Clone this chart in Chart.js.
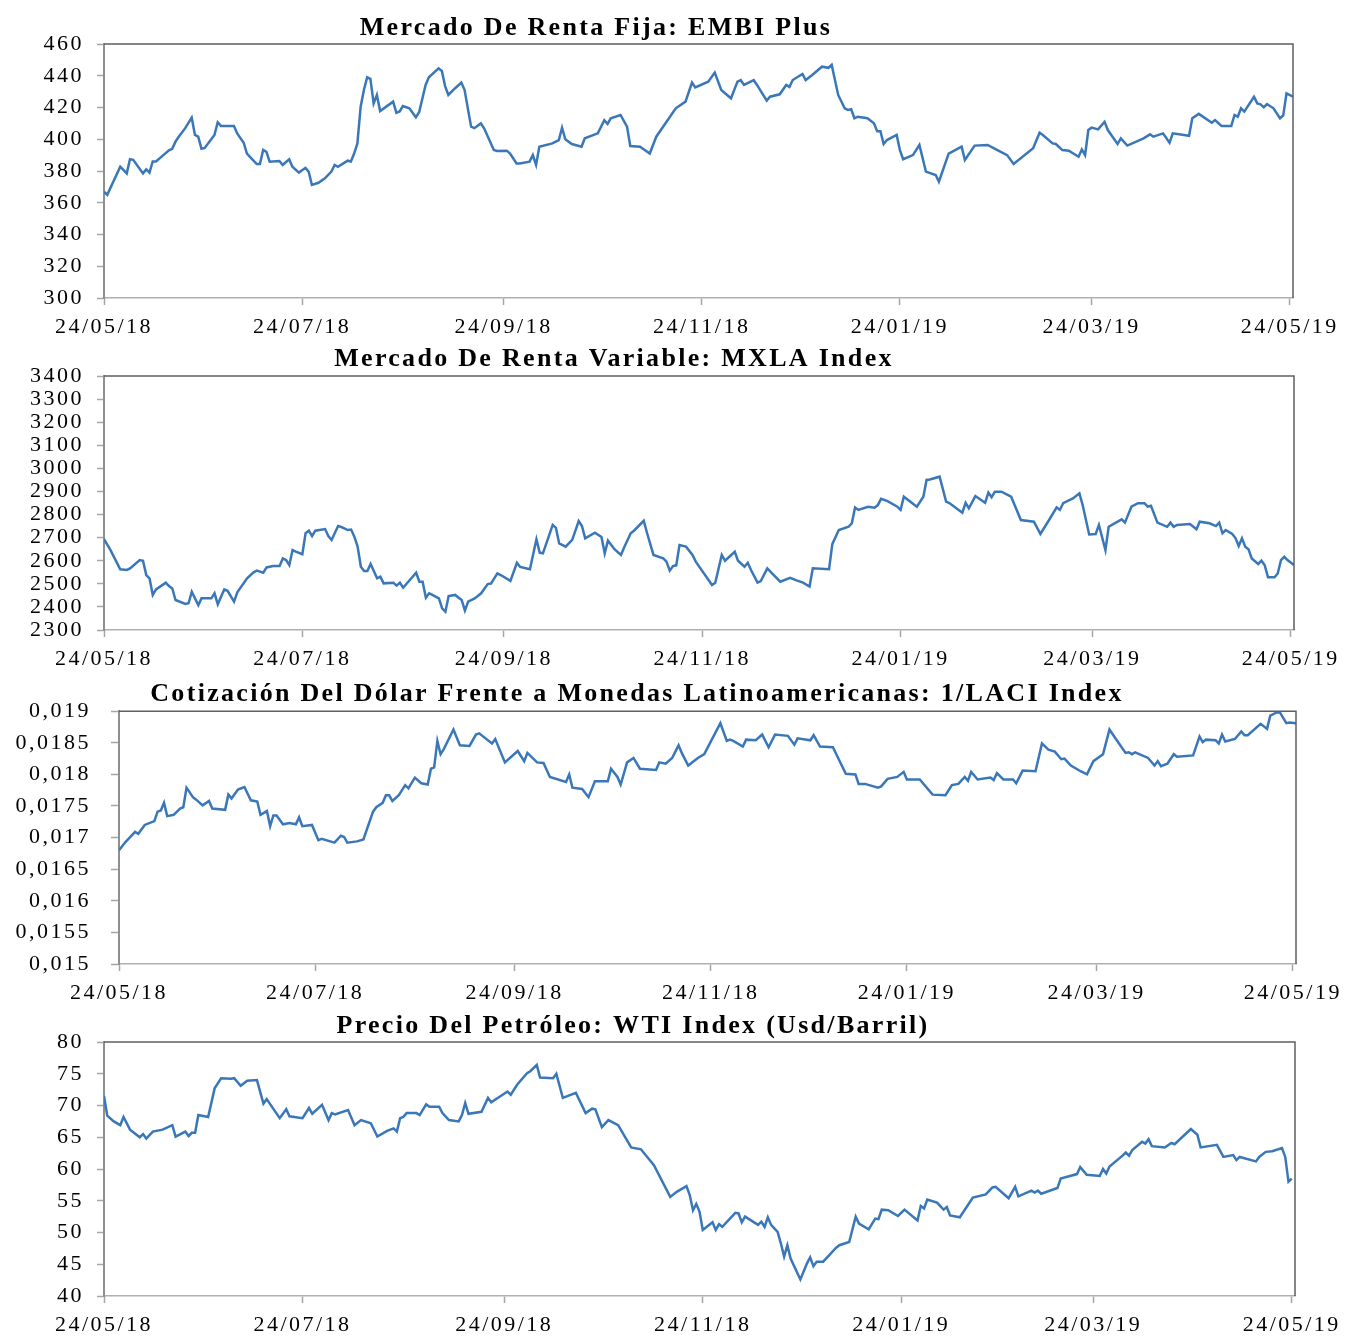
<!DOCTYPE html>
<html>
<head>
<meta charset="utf-8">
<script src="https://cdn.jsdelivr.net/npm/chart.js@4.4.1/dist/chart.umd.min.js"></script>
<style>
    html, body { margin: 0; padding: 0; background: #fff; }
    body { width: 1345px; height: 1336px; position: relative; overflow: hidden; }
    .panel { position: absolute; left: 0; width: 1345px; }
</style>
</head>
<body>
<div class="panel" style="top:0;height:342px"><canvas id="chart-embi"></canvas></div>
<div class="panel" style="top:342px;height:336px"><canvas id="chart-mxla"></canvas></div>
<div class="panel" style="top:678px;height:332px"><canvas id="chart-laci"></canvas></div>
<div class="panel" style="top:1010px;height:326px"><canvas id="chart-wti"></canvas></div>
<script>
// --- Data (x = days since 24/05/18) ---

const dateTickDays   = [0, 61, 123, 184, 245, 304, 365];
const dateTickLabels = ["24/05/18", "24/07/18", "24/09/18", "24/11/18", "24/01/19", "24/03/19", "24/05/19"];

const embiTicks  = [300, 320, 340, 360, 380, 400, 420, 440, 460];
const mxlaTicks  = [2300, 2400, 2500, 2600, 2700, 2800, 2900, 3000, 3100, 3200, 3300, 3400];
const laciTicks  = [0.015, 0.0155, 0.016, 0.0165, 0.017, 0.0175, 0.018, 0.0185, 0.019];
const laciTickLabels = ["0,015", "0,0155", "0,016", "0,0165", "0,017", "0,0175", "0,018", "0,0185", "0,019"];
const wtiTicks   = [40, 45, 50, 55, 60, 65, 70, 75, 80];

const embiDays = [0,1,5,7,8,9,12,13,14,15,16,18,20,21,22,23,25,27,28,29,30,31,34,35,36,40,41,43,44,47,48,49,50,51,54,55,57,58,60,62,63,64,66,68,70,71,72,75,76,77,78,79,80,81,82,83,84,85,89,90,91,92,94,96,97,99,100,103,104,105,106,108,110,111,113,114,116,117,120,121,124,125,127,128,131,132,133,134,138,140,141,142,144,147,148,152,154,155,156,159,161,162,165,168,170,176,179,181,182,186,188,190,193,195,196,197,200,201,204,205,208,210,211,212,215,216,218,221,223,224,226,228,229,230,231,232,235,237,238,239,240,241,244,245,246,249,251,253,256,257,260,264,265,268,272,274,278,280,286,288,289,292,293,295,297,300,301,302,303,304,306,308,309,312,313,315,320,322,323,326,328,329,334,335,337,341,342,344,347,348,349,350,351,354,355,356,357,358,360,361,362,363,364,366];
const embiValues = [367,365,382.7,378.5,387.4,387,378.5,381,379,386,386,389.5,393,394,398.5,401.6,407,413.6,402.7,401.6,394,394.5,402.7,410.7,408.4,408.4,403.7,397.8,391,384.4,384.4,393.2,392,385.9,386.3,383.8,387.4,382.7,379,382,379.6,371.2,372.6,375.4,379.6,383.8,382.6,386.5,386,391,397.4,420.5,431,439,438,422.6,427.9,417.8,423.7,416.7,417.5,420.9,419.5,413.8,417,434.2,439,444.7,443,433.5,427.9,432,435.7,431,407.9,407,410,406.9,393.2,392.6,392.8,391,384.8,384.8,385.9,390,383.8,395.3,397.4,399.5,407.3,400,397,395.3,400.6,403.7,412,409.7,413.2,415.3,408,395.7,395.3,391,401.6,419.5,423.7,435.7,432.7,436.3,442,431,425.8,436.3,437.3,434.2,437.3,434.2,424.3,426.8,428.3,434.2,433,437.3,441.1,437.3,440.5,445.7,445,446.8,427.9,419.5,418.5,418.9,413.2,414.2,413.2,410,405,405,397,399.5,402.7,393.2,387.4,390,396.4,379.6,377.5,373.3,391,395.3,386.9,396,396.4,394.3,390,384.4,394.3,404.1,402.7,397.4,397,393.2,392.8,389,393.6,390,405.8,407.3,406.2,411,405.8,397,400.6,396,400.6,403.1,401.6,403.7,397.8,403.7,402.2,413.2,416,410.4,412.1,408.4,408.4,415.3,414.2,419.5,417.4,426.8,422.6,422,420.1,422.2,419.5,416.3,413.2,415,428.9,426.8];

const mxlaDays = [0,2,5,7,8,11,12,13,14,15,16,19,20,21,22,25,26,27,29,30,33,34,35,37,38,40,41,44,46,47,49,50,52,54,55,56,57,58,59,61,62,63,64,65,68,69,70,72,73,75,76,77,78,79,80,81,82,84,85,86,89,90,91,92,96,97,98,99,100,101,103,104,105,106,108,110,111,112,114,116,118,119,121,122,125,127,128,131,133,134,135,138,139,140,142,144,146,147,148,151,153,154,155,157,159,160,162,163,166,167,169,172,173,174,175,176,177,179,181,182,187,188,190,191,194,195,197,198,199,201,202,204,206,208,211,213,215,217,218,223,224,226,229,230,231,232,235,237,238,239,241,244,245,246,250,252,253,254,257,259,260,264,265,266,268,271,272,273,274,276,279,282,286,288,291,293,294,295,298,300,301,303,305,306,308,309,313,314,316,318,320,321,322,324,327,328,329,330,334,336,337,340,342,343,344,345,347,348,349,350,351,352,353,355,356,357,358,360,361,362,363,364,366];
const mxlaValues = [2694,2646,2563,2560,2567,2603,2600,2538,2524,2452,2476,2505,2490,2480,2430,2413,2416,2466,2408,2437,2437,2459,2411,2476,2470,2423,2463,2524,2550,2557,2548,2571,2577,2577,2610,2603,2581,2646,2639,2628,2719,2730,2707,2730,2737,2707,2690,2750,2746,2733,2735,2704,2661,2574,2555,2555,2586,2524,2531,2502,2505,2492,2505,2483,2548,2509,2509,2440,2459,2452,2437,2394,2379,2447,2452,2430,2384,2423,2437,2459,2499,2501,2545,2538,2513,2591,2573,2563,2693,2635,2632,2755,2742,2675,2661,2690,2772,2750,2697,2721,2703,2632,2687,2650,2625,2658,2719,2730,2773,2721,2625,2610,2596,2557,2577,2580,2668,2661,2625,2596,2495,2505,2625,2600,2639,2600,2574,2591,2560,2505,2512,2567,2538,2509,2526,2515,2505,2488,2567,2563,2672,2733,2747,2762,2831,2820,2834,2830,2841,2868,2858,2834,2820,2877,2834,2877,2950,2952,2964,2856,2850,2808,2851,2827,2880,2851,2895,2875,2899,2899,2877,2776,2769,2716,2784,2831,2820,2849,2870,2892,2841,2714,2716,2755,2646,2747,2779,2765,2834,2849,2849,2834,2838,2765,2747,2765,2747,2755,2759,2736,2769,2762,2750,2765,2719,2733,2716,2698,2664,2697,2661,2650,2610,2586,2600,2580,2528,2528,2545,2603,2617,2603,2581];

const laciDays = [0,2,5,6,8,11,12,13,14,15,17,19,20,21,23,24,26,28,29,33,34,35,37,39,41,43,44,46,47,48,49,51,53,55,56,57,60,62,63,67,69,70,71,74,76,79,80,82,83,84,85,87,89,90,92,94,96,97,98,99,100,101,104,106,109,111,112,116,117,120,124,126,127,130,132,134,139,140,141,144,146,148,152,153,155,156,158,160,162,167,168,170,172,174,175,177,180,182,187,189,190,191,194,195,198,200,202,204,208,210,211,215,216,218,222,224,226,229,230,232,236,237,239,242,244,245,249,253,257,259,261,263,264,265,267,271,272,273,275,278,279,281,285,287,289,291,293,294,296,299,301,303,306,308,310,313,314,315,316,320,322,323,324,326,328,329,334,336,337,338,341,342,343,344,347,349,350,351,355,357,358,360,361,363,364,366];
const laciValues = [0.0168,0.01693,0.01709,0.01706,0.0172,0.01726,0.01741,0.01743,0.01755,0.01734,0.01736,0.01746,0.01748,0.01779,0.01764,0.0176,0.01751,0.01758,0.01746,0.01744,0.01768,0.01762,0.01776,0.0178,0.01759,0.01757,0.01736,0.01742,0.01718,0.01735,0.01735,0.01721,0.01723,0.01721,0.01732,0.01718,0.0172,0.01696,0.01698,0.01692,0.01703,0.01701,0.01692,0.01694,0.01697,0.01741,0.01748,0.01755,0.01767,0.01767,0.01758,0.01767,0.01783,0.01778,0.01795,0.01786,0.01784,0.01809,0.01811,0.01853,0.01832,0.0184,0.01871,0.01846,0.01845,0.01863,0.01865,0.01849,0.01856,0.01819,0.01837,0.01821,0.01834,0.01819,0.01818,0.01796,0.01788,0.018,0.01779,0.01777,0.01764,0.01789,0.01789,0.01809,0.01796,0.01784,0.01819,0.01826,0.01809,0.01807,0.01819,0.01817,0.01826,0.01846,0.01834,0.01814,0.01826,0.01832,0.01881,0.01853,0.01855,0.01853,0.01844,0.01855,0.01854,0.01863,0.01843,0.01863,0.01861,0.01847,0.01857,0.01854,0.01862,0.01844,0.01843,0.01822,0.01801,0.018,0.01785,0.01785,0.01779,0.01781,0.01793,0.01796,0.01804,0.01792,0.01792,0.01768,0.01767,0.01783,0.01785,0.01796,0.0179,0.01804,0.01792,0.01795,0.01791,0.01802,0.01792,0.01792,0.01786,0.01806,0.01805,0.01849,0.01839,0.01836,0.01824,0.01825,0.01814,0.01805,0.018,0.01821,0.01832,0.01871,0.01856,0.01834,0.01835,0.01832,0.01835,0.01826,0.01814,0.01821,0.01813,0.01817,0.01832,0.01828,0.0183,0.0186,0.01851,0.01855,0.01854,0.01849,0.01863,0.01852,0.01856,0.01868,0.01862,0.01862,0.0188,0.01872,0.01893,0.01898,0.01898,0.01881,0.01882,0.01881];

const wtiDays = [0,1,3,5,6,8,11,12,13,15,18,21,22,25,26,27,28,29,32,34,36,39,40,42,44,47,49,50,54,56,57,61,63,64,67,69,70,71,75,77,79,82,84,87,89,90,91,92,93,96,97,99,100,103,104,106,109,110,111,112,116,118,119,124,125,127,130,131,133,134,138,139,141,145,148,150,151,153,155,158,162,165,169,174,176,179,180,181,182,183,184,187,188,189,190,194,195,196,197,201,202,203,204,205,207,208,209,210,211,214,216,217,218,219,221,225,226,229,231,232,235,237,238,239,241,244,246,250,251,252,253,256,258,259,260,263,267,271,273,274,278,280,281,285,286,287,288,293,294,299,300,302,306,307,308,309,313,314,315,316,319,320,321,322,326,328,329,334,336,337,342,344,347,348,349,354,355,357,359,362,363,364,365];
const wtiValues = [71.5,68.4,67.5,66.9,68.2,66.2,65.0,65.5,64.8,65.9,66.2,66.9,65.1,65.9,65.2,65.7,65.7,68.5,68.2,72.7,74.3,74.2,74.3,73.1,73.9,74.0,70.3,71.0,68.0,69.4,68.3,68.0,69.6,68.7,70.1,67.7,68.8,68.6,69.3,66.9,67.7,67.2,65.1,66.0,66.4,65.9,68.0,68.2,68.8,68.8,68.5,70.2,69.8,69.8,68.8,67.7,67.5,68.5,70.4,68.7,69.0,71.2,70.5,72.2,71.7,73.3,75.1,75.4,76.4,74.4,74.3,75.0,71.2,72.0,68.8,69.5,69.4,66.6,67.7,66.9,63.4,63.1,60.6,55.6,56.4,57.3,55.9,53.5,54.5,53.3,50.4,51.6,50.4,51.3,50.9,53.1,53.0,51.6,52.5,51.2,51.7,50.9,52.4,51.2,50.1,48.3,46.2,48.0,45.9,42.6,45.1,46.1,44.7,45.4,45.4,47.6,48.0,48.5,52.5,51.4,50.5,52.2,52.1,53.6,53.5,52.6,53.6,51.9,54.2,53.8,55.2,54.7,53.6,54.0,52.7,52.4,55.5,56.0,57.1,57.2,55.4,57.2,55.7,56.6,56.3,56.6,56.1,57.0,58.5,59.2,60.3,59.1,58.9,60.0,59.3,60.4,62.1,62.6,62.1,63.0,64.3,64.0,64.7,63.6,63.4,64.1,63.9,66.3,65.4,63.4,63.8,61.9,62.2,61.4,61.9,61.2,61.9,62.7,62.8,63.3,61.9,58.0,58.5];

// --- Style ---

const LINE_COLOR = "#3a77b9";
const FONT       = "Liberation Serif";

// top/right frame, chart title, and the wide letter spacing of the source image
const framePlugin = {
    id: "frame",
    beforeDraw(chart) {
        chart.ctx.letterSpacing = "2.5px";
    },
    afterDraw(chart, args, opts) {
        const { ctx, chartArea: a } = chart;
        ctx.save();
        ctx.strokeStyle = "#5f5f5f";
        ctx.lineWidth   = 1.5;
        ctx.beginPath();
        ctx.moveTo(a.left, a.top);
        ctx.lineTo(a.right, a.top);
        ctx.lineTo(a.right, a.bottom);
        ctx.stroke();

        ctx.letterSpacing = "2.3px";
        ctx.font         = `bold 26px "${FONT}"`;
        ctx.fillStyle    = "#000";
        ctx.textAlign    = "center";
        ctx.textBaseline = "alphabetic";
        ctx.fillText(opts.text, opts.x, opts.y);
        ctx.restore();
    }
};

function toPoints(days, values) {
    return days.map((d, i) => ({ x: d, y: values[i] }));
}

function makeChart(id, cfg) {
    const ctx = document.getElementById(id).getContext("2d");
    return new Chart(ctx, {
        type: "line",
        data: {
            datasets: [{
                data: toPoints(cfg.days, cfg.values),
                borderColor: LINE_COLOR,
                borderWidth: 2.5,
                pointRadius: 0,
                tension: 0,
                fill: false
            }]
        },
        options: {
            responsive: true,
            maintainAspectRatio: false,
            animation: false,
            events: [],
            layout: { padding: { top: cfg.padTop, left: 0, right: cfg.padRight, bottom: 0 } },
            plugins: {
                legend: { display: false },
                tooltip: { enabled: false },
                frame: { text: cfg.title, x: cfg.titleX, y: cfg.titleY }
            },
            scales: {
                x: {
                    type: "linear",
                    min: 0,
                    max: 366,
                    afterBuildTicks: s => { s.ticks = dateTickDays.map(v => ({ value: v })); },
                    afterFit: s => { s.height = cfg.xHeight; },
                    ticks: {
                        autoSkip: false,
                        maxRotation: 0,
                        padding: 9,
                        color: "#000",
                        font: { family: FONT, size: 22 },
                        callback: (v, i) => dateTickLabels[i]
                    },
                    grid: { drawOnChartArea: false, tickLength: 7, tickWidth: 1.5, color: "#a6a6a6" },
                    border: { color: "#b0b0b0", width: 1.5 }
                },
                y: {
                    min: cfg.ticks[0],
                    max: cfg.ticks[cfg.ticks.length - 1],
                    afterBuildTicks: s => { s.ticks = cfg.ticks.map(v => ({ value: v })); },
                    afterFit: s => { s.width = cfg.yWidth; },
                    ticks: {
                        autoSkip: false,
                        padding: cfg.yPad,
                        color: "#000",
                        font: { family: FONT, size: 22 },
                        callback: (v, i) => cfg.tickLabels ? cfg.tickLabels[i] : v
                    },
                    grid: { drawOnChartArea: false, tickLength: cfg.yTick, tickWidth: 1.5, color: "#a6a6a6" },
                    border: { color: "#8f8f8f", width: 2 }
                }
            }
        },
        plugins: [framePlugin]
    });
}

// --- Charts ---

makeChart("chart-embi", {
    days: embiDays, values: embiValues, ticks: embiTicks,
    title: "Mercado De Renta Fija: EMBI Plus", titleX: 596, titleY: 35,
    padTop: 44, padRight: 52, yWidth: 104, yPad: 13, yTick: 7, xHeight: 44
});

makeChart("chart-mxla", {
    days: mxlaDays, values: mxlaValues, ticks: mxlaTicks,
    title: "Mercado De Renta Variable: MXLA Index", titleX: 614, titleY: 24,
    padTop: 34, padRight: 51, yWidth: 104, yPad: 13, yTick: 7, xHeight: 48
});

makeChart("chart-laci", {
    days: laciDays, values: laciValues, ticks: laciTicks, tickLabels: laciTickLabels,
    title: "Cotización Del Dólar Frente a Monedas Latinoamericanas: 1/LACI Index", titleX: 637, titleY: 23,
    padTop: 33, padRight: 49, yWidth: 119, yPad: 20, yTick: 8, xHeight: 46
});

makeChart("chart-wti", {
    days: wtiDays, values: wtiValues, ticks: wtiTicks,
    title: "Precio Del Petróleo: WTI Index (Usd/Barril)", titleX: 633, titleY: 23,
    padTop: 32, padRight: 50, yWidth: 104, yPad: 13, yTick: 7, xHeight: 40
});
</script>
</body>
</html>
